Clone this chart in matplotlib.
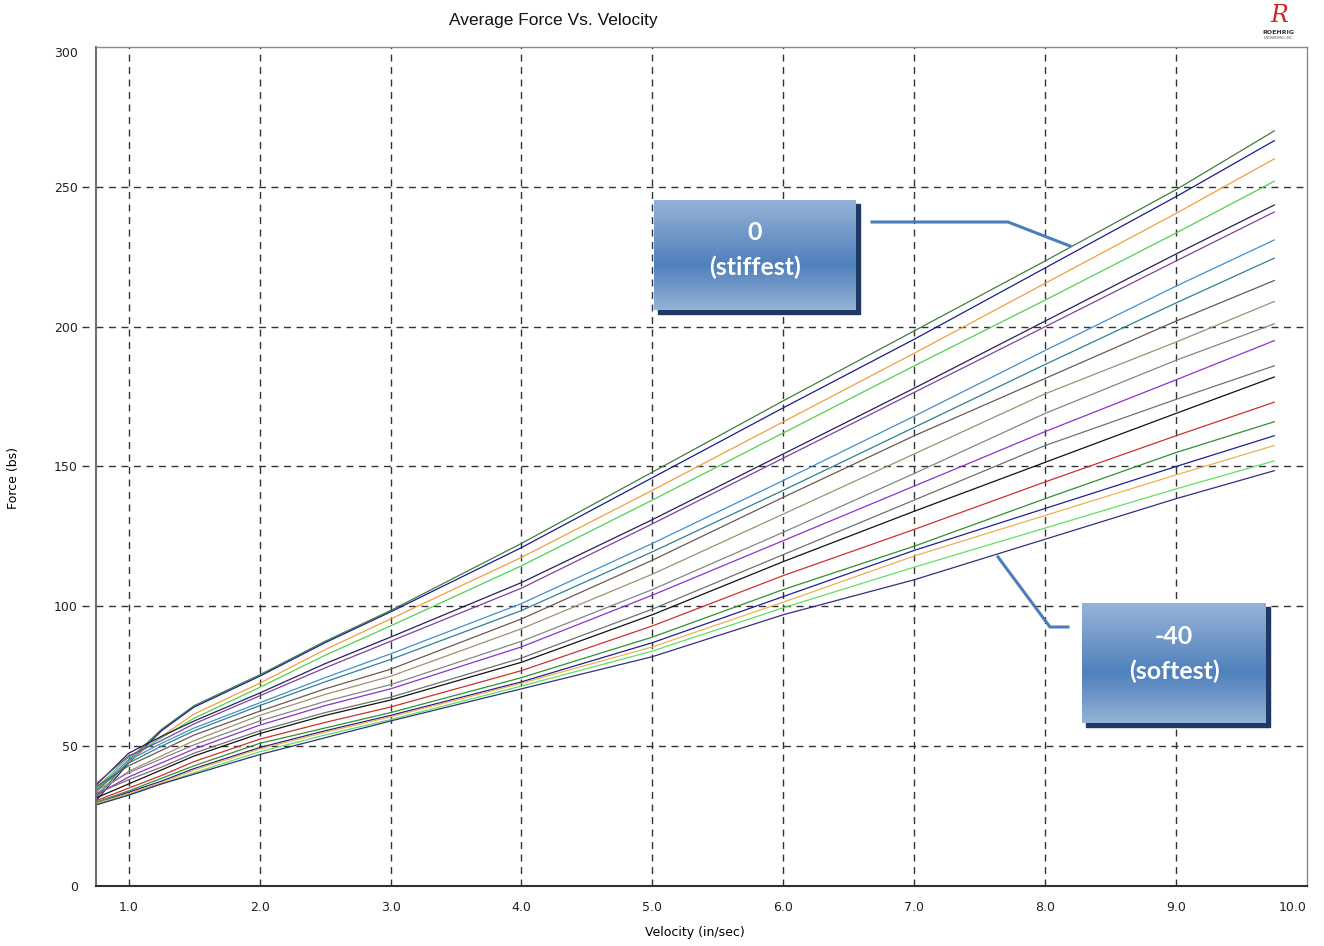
# -*- coding: utf-8 -*-
"""
Average force vs. velocity sweep of a damper, one curve per click setting.
"""

import numpy as np
import matplotlib
matplotlib.use('Agg')
import matplotlib.pyplot as plt
from matplotlib.patches import Rectangle
from matplotlib.colors import LinearSegmentedColormap

# =============================================================================
# Data
# =============================================================================
velocity = [0.75, 1.0, 1.25, 1.5, 2.0, 2.5, 3.0, 4.0, 5.0, 6.0, 7.0, 8.0, 9.0, 9.75]

# curves listed from the stiffest (top) to the softest (bottom)
force_00 = [31.5, 45, 56, 64.5, 75.5, 87.5, 98.5, 122.5, 148, 173.5, 198.5, 223.5, 249, 270]
force_01 = [30.5, 44, 55.5, 64, 75, 87, 98, 121, 146, 171, 195.5, 221, 246.5, 266.5]
force_02 = [33.5, 44.5, 53.5, 61.5, 72.5, 84.5, 95.5, 117.5, 141.5, 166, 190.5, 215.5, 240.5, 260]
force_03 = [35, 46, 53, 60, 71, 82.5, 93, 114.5, 138, 162, 186, 209.5, 233.5, 252]
force_04 = [36, 47.5, 53.5, 59, 69, 79.5, 89, 108.5, 131, 154.5, 178, 202, 226, 243.5]
force_05 = [36.5, 46.5, 52, 58, 68, 78, 87.5, 106.5, 129.5, 153, 176.5, 200, 223.5, 241]
force_06 = [34.5, 45, 51, 56.5, 65.5, 74.5, 83, 101, 122.5, 145, 168, 191.5, 214.5, 231]
force_07 = [34, 44, 50, 55.5, 64.5, 73, 81, 98.5, 119.5, 141.5, 164, 186.5, 208.5, 224.5]
force_08 = [35.5, 43, 48.5, 54, 62.5, 70.5, 77.5, 95.5, 116.5, 139, 161, 181.5, 202, 216.5]
force_09 = [33, 41, 46.5, 52, 61, 68.5, 75, 92, 111.5, 133, 154.5, 176, 194.5, 209]
force_10 = [34, 40.5, 45.5, 50.5, 59, 66, 72, 87.5, 106, 126.5, 147.5, 169, 188, 201]
force_11 = [32.5, 39, 44, 49, 57.5, 64.5, 70.5, 85.5, 104, 123.5, 143, 162.5, 181, 195]
force_12 = [33, 38, 42.5, 47.5, 55.5, 62, 67.5, 81.5, 99, 118.5, 138, 157.5, 174, 186]
force_13 = [31.5, 36.5, 41.5, 46.5, 54.5, 61, 66.5, 80, 97, 116, 134, 151.5, 169, 182]
force_14 = [30.5, 35, 39.5, 44.5, 52.5, 58.5, 64, 77, 93, 111, 127.5, 144.5, 161, 173]
force_15 = [30, 34, 38.5, 43, 51, 56.5, 62, 74.5, 89, 106, 121.5, 138.5, 155, 166]
force_16 = [29.5, 33.5, 37.5, 42, 49.5, 55.5, 61, 73, 87, 103.5, 120, 135, 150, 161]
force_17 = [29.5, 33, 37, 41.5, 49, 55, 60.5, 72.5, 85.5, 101.5, 118, 132.5, 147, 157.5]
force_18 = [29, 32.5, 36.5, 40.5, 48, 54, 59.5, 71.5, 84, 99.5, 114, 128, 142, 152]
force_19 = [29, 32.5, 36.5, 40, 47, 53, 59, 70.5, 82, 97, 109.5, 124, 138.5, 148.5]

curves = [force_00, force_01, force_02, force_03, force_04, force_05, force_06,
          force_07, force_08, force_09, force_10, force_11, force_12, force_13,
          force_14, force_15, force_16, force_17, force_18, force_19]

curve_colors = ['#3f7f3f', '#1c1c8c', '#f0a040', '#50d050', '#22225a',
                '#8040a0', '#4090d0', '#2f8090', '#6a5a50', '#a09070',
                '#858585', '#9030d0', '#707070', '#111111', '#d03030',
                '#2f902f', '#202090', '#f0b050', '#60e060', '#303080']

x_ticks = [1.0, 2.0, 3.0, 4.0, 5.0, 6.0, 7.0, 8.0, 9.0, 10.0]
y_ticks = [0, 50, 100, 150, 200, 250, 300]

stiff_label = '0\n(stiffest)'
soft_label = '-40\n(softest)'

# =============================================================================
# Figure
# =============================================================================
W, H = 1324, 946
fig = plt.figure(figsize=(W / 100, H / 100), dpi=100)
fig.patch.set_facecolor('white')

ax = fig.add_axes([96 / W, 1 - 886 / H, (1307 - 96) / W, (886 - 47) / H])
ax.set_xlim(0.75, 10.0)
ax.set_ylim(0, 300)

for y, c in zip(curves, curve_colors):
    ax.plot(velocity, y, color=c, lw=0.9)

# Grid
dash = (0, (5, 4))
ax.set_xticks(x_ticks)
ax.set_yticks(y_ticks)
for xv in x_ticks[:-1]:
    ax.axvline(xv, color='#333333', ls=dash, lw=1.0, zorder=0)
for yv in y_ticks[1:-1]:
    ax.axhline(yv, color='#333333', ls=dash, lw=1.0, zorder=0)
    # little dashed stub reaching out to the tick label
    ax.plot([-(96 - 82) / 1211, 0], [yv, yv], color='#333333', ls=dash,
            lw=1.0, clip_on=False, transform=ax.get_yaxis_transform())

# Ticks
ax.tick_params(length=0, labelsize=9, colors='#222222')
ax.tick_params(axis='y', pad=13)
ax.tick_params(axis='x', pad=11)
ax.set_xticklabels(['%.1f' % v for v in x_ticks], family='DejaVu Sans')
ax.set_yticklabels([str(v) for v in y_ticks], family='DejaVu Sans')
ax.get_xticklabels()[-1].set_horizontalalignment('right')
ax.get_yticklabels()[-1].set_verticalalignment('top')

# Spines
for side in ['top', 'right']:
    ax.spines[side].set_color('#8a8a8a')
    ax.spines[side].set_linewidth(1.0)
ax.spines['left'].set_color('#707070')
ax.spines['left'].set_linewidth(1.5)
ax.spines['bottom'].set_color('#303030')
ax.spines['bottom'].set_linewidth(1.5)

# Axis labels
ax.set_xlabel('Velocity (in/sec)', fontsize=9, family='DejaVu Sans')
ax.xaxis.set_label_coords((695 - 96) / 1211, -(926 - 886) / 839)
ax.set_ylabel('Force (bs)', fontsize=9, family='DejaVu Sans')
ax.yaxis.set_label_coords((20 - 96) / 1211, (886 - 478) / 839)

# =============================================================================
# Overlay in pixel coordinates: title, logo and callout boxes
# =============================================================================
ov = fig.add_axes([0, 0, 1, 1], zorder=5)
ov.patch.set_alpha(0)
ov.axis('off')

ov.text(553, 20, 'Average Force Vs. Velocity', ha='center', va='center',
        fontsize=12.5, family='Liberation Sans', color='#111111')

# logo
ov.text(1279, 15, 'R', ha='center', va='center', fontsize=17,
        style='italic', family='DejaVu Serif', color='#c8282a')
ov.text(1278, 32, 'ROEHRIG', ha='center', va='center', fontsize=4.5,
        weight='bold', color='#333333')
ov.text(1278, 38, 'ENGINEERING, INC.', ha='center', va='center',
        fontsize=2.2, color='#555555')

grad = LinearSegmentedColormap.from_list(
    'callout', [(0.0, '#95b3d7'), (0.3, '#7399c9'), (0.58, '#4f81bd'),
                (0.8, '#7399c9'), (1.0, '#95b3d7')])
ramp = np.linspace(0, 1, 256).reshape(-1, 1)


def callout(x0, y0, x1, y1, text, tx, ty):
    # shadow, gradient body, then white bold text
    ov.add_patch(Rectangle((x0 + 4, y0 + 4), x1 - x0, y1 - y0,
                           color='#1f3864', zorder=1))
    ov.imshow(ramp, cmap=grad, extent=(x0, x1, y1, y0), aspect='auto',
              zorder=2, interpolation='bilinear')
    ov.text(tx, ty, text, ha='center', va='center', fontsize=18,
            weight='bold', family='Lato', color='white', linespacing=1.6,
            zorder=3)


callout(654, 200, 856, 310, stiff_label, 755, 250)
callout(1082, 603, 1266, 723, soft_label, 1174, 654)

ov.plot([872, 1008, 1070], [222, 222, 246], color='#4a7ebb', lw=2.2)
ov.plot([1068, 1050, 998], [627, 627, 557], color='#4a7ebb', lw=2.2)

ov.set_xlim(0, W)
ov.set_ylim(H, 0)

plt.savefig('out.png', dpi=100)
